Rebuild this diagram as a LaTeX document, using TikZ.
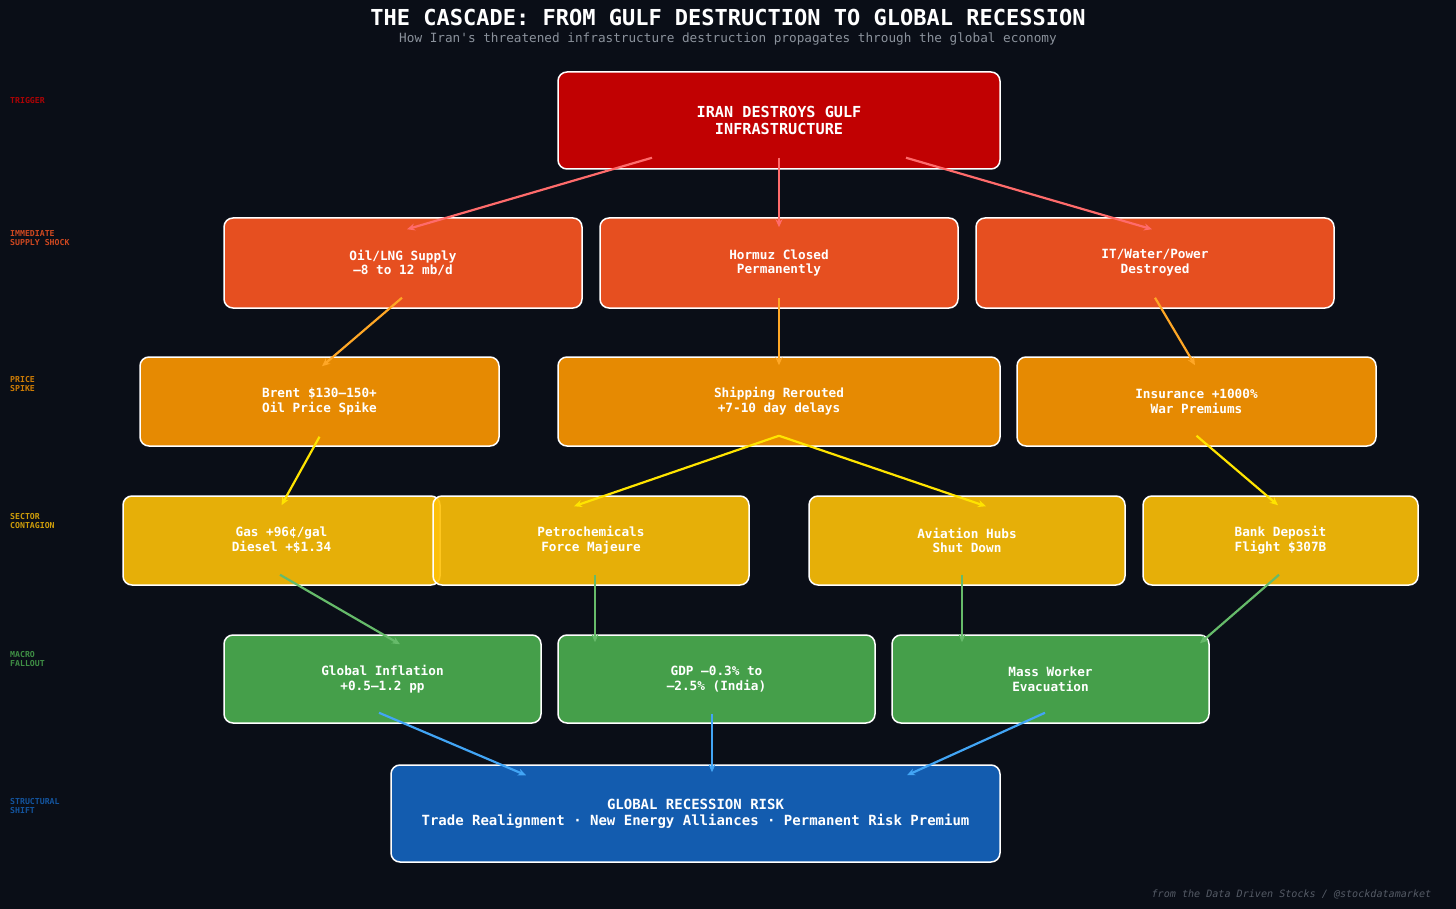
\documentclass[tikz,border=0pt]{standalone}
\usepackage{fontspec}
\setmainfont{DejaVu Sans Mono}
\setmonofont{DejaVu Sans Mono}
\usetikzlibrary{arrows.meta}
\definecolor{bg}{HTML}{0A0E17}
\definecolor{cRed}{HTML}{D50000}
\definecolor{cDeep}{HTML}{FF5722}
\definecolor{cOrange}{HTML}{FF9800}
\definecolor{cAmber}{HTML}{FFC107}
\definecolor{cGreen}{HTML}{4CAF50}
\definecolor{cBlue}{HTML}{1565C0}
\definecolor{aRed}{HTML}{FF6B6B}
\definecolor{aOrange}{HTML}{FFA726}
\definecolor{aYellow}{HTML}{FFE400}
\definecolor{aGreen}{HTML}{66BB6A}
\definecolor{aBlue}{HTML}{42A5F5}
\definecolor{subc}{HTML}{8B929C}
\definecolor{footc}{HTML}{555B66}
\tikzset{
  box/.style={draw=white, line width=1.5pt, rounded corners=9pt, fill opacity=0.9,
    text opacity=1, text=white, inner sep=0pt, align=center,
    font=\bfseries\fontsize{12.7}{14.8}\selectfont},
  lbl/.style={anchor=base west, inner sep=0pt, font=\bfseries\fontsize{8.2}{9}\selectfont},
  arr/.style={line width=2.2pt, -{Stealth[length=8pt,width=7pt]}},
}
\begin{document}
\begin{tikzpicture}[x=1pt,y=-1pt]
\fill[bg] (0,0) rectangle (1456,909);

% title
\node[anchor=base, inner sep=0pt, text=white, font=\bfseries\fontsize{22}{26}\selectfont] (title) at (728,25.7) {THE CASCADE: FROM GULF DESTRUCTION TO GLOBAL RECESSION};
\node[anchor=base, inner sep=0pt, text=subc, font=\ttfamily\fontsize{12.7}{15}\selectfont] (sub) at (728,42.5) {How Iran's threatened infrastructure destruction propagates through the global economy};

% level labels
\node[lbl, text=cRed!80!bg] (l1) at (10,103.3) {TRIGGER};
\node[lbl, text=cDeep!80!bg] (l2a) at (10,236.7) {IMMEDIATE};
\node[lbl, text=cDeep!80!bg] (l2b) at (10,245.7) {SUPPLY SHOCK};
\node[lbl, text=cOrange!80!bg] (l3a) at (10,382.7) {PRICE};
\node[lbl, text=cOrange!80!bg] (l3b) at (10,391.7) {SPIKE};
\node[lbl, text=cAmber!80!bg] (l4a) at (10,519.3) {SECTOR};
\node[lbl, text=cAmber!80!bg] (l4b) at (10,528.3) {CONTAGION};
\node[lbl, text=cGreen!80!bg] (l5a) at (10,657.3) {MACRO};
\node[lbl, text=cGreen!80!bg] (l5b) at (10,666.3) {FALLOUT};
\node[lbl, text=cBlue!80!bg] (l6a) at (10,804.3) {STRUCTURAL};
\node[lbl, text=cBlue!80!bg] (l6b) at (10,813.3) {SHIFT};

% boxes
\node[box, fill=cRed, minimum width=442pt, minimum height=97pt,
  font=\bfseries\fontsize{15.2}{17.6}\selectfont] (trig) at (779,120.5) {IRAN DESTROYS GULF\\INFRASTRUCTURE};

\node[box, fill=cDeep, minimum width=358pt, minimum height=90pt] (oil) at (403,263) {Oil/LNG Supply\\–8 to 12 mb/d};
\node[box, fill=cDeep, minimum width=358pt, minimum height=90pt] (hormuz) at (779,263) {Hormuz Closed\\Permanently};
\node[box, fill=cDeep, minimum width=358pt, minimum height=90pt] (itw) at (1155,263) {IT/Water/Power\\Destroyed};

\node[box, fill=cOrange, minimum width=359pt, minimum height=89pt] (brent) at (319.5,401.5) {Brent \$130–150+\\Oil Price Spike};
\node[box, fill=cOrange, minimum width=442pt, minimum height=89pt] (ship) at (779,401.5) {Shipping Rerouted\\+7-10 day delays};
\node[box, fill=cOrange, minimum width=359pt, minimum height=89pt] (ins) at (1196.5,401.5) {Insurance +1000\%\\War Premiums};

\node[box, fill=cAmber, minimum width=317pt, minimum height=89pt] (gas) at (281.5,540.5) {Gas +96¢/gal\\Diesel +\$1.34};
\node[box, fill=cAmber, minimum width=316pt, minimum height=89pt] (petro) at (591,540.5) {Petrochemicals\\Force Majeure};
\node[box, fill=cAmber, minimum width=316pt, minimum height=89pt] (avia) at (967,540.5) {Aviation Hubs\\Shut Down};
\node[box, fill=cAmber, minimum width=275pt, minimum height=89pt] (bank) at (1280.5,540.5) {Bank Deposit\\Flight \$307B};

\node[box, fill=cGreen, minimum width=317pt, minimum height=88pt] (infl) at (382.5,679) {Global Inflation\\+0.5–1.2 pp};
\node[box, fill=cGreen, minimum width=317pt, minimum height=88pt] (gdp) at (716.5,679) {GDP –0.3\% to\\–2.5\% (India)};
\node[box, fill=cGreen, minimum width=317pt, minimum height=88pt] (mass) at (1050.5,679) {Mass Worker\\Evacuation};

\node[box, fill=cBlue, minimum width=609pt, minimum height=97pt,
  font=\bfseries\fontsize{14}{16.5}\selectfont] (rec) at (695.5,813.5) {GLOBAL RECESSION RISK\\Trade Realignment · New Energy Alliances · Permanent Risk Premium};

% arrows
\draw[arr, aRed] ([xshift=-127pt,yshift=12pt]trig.south) -- ([xshift=4pt,yshift=-12pt]oil.north);
\draw[arr, aRed] ([yshift=12pt]trig.south) -- ([yshift=-10pt]hormuz.north);
\draw[arr, aRed] ([xshift=127pt,yshift=12pt]trig.south) -- ([xshift=-3pt,yshift=-12pt]itw.north);

\draw[arr, aOrange] ([xshift=-1pt,yshift=11pt]oil.south) -- ([xshift=2.5pt,yshift=-10pt]brent.north);
\draw[arr, aOrange] ([yshift=11pt]hormuz.south) -- ([yshift=-9pt]ship.north);
\draw[arr, aOrange] ([yshift=11pt]itw.south) -- ([xshift=-1.5pt,yshift=-9pt]ins.north);

\draw[arr, aYellow] ([yshift=10pt]brent.south) -- ([yshift=-10pt]gas.north);
\draw[arr, aYellow] ([yshift=11pt]ship.south) -- ([xshift=-17pt,yshift=-11pt]petro.north);
\draw[arr, aYellow] ([yshift=11pt]ship.south) -- ([xshift=19pt,yshift=-11pt]avia.north);
\draw[arr, aYellow] ([yshift=11pt]ins.south) -- ([xshift=-2.5pt,yshift=-10pt]bank.north);

\draw[arr, aGreen] ([xshift=-1.5pt,yshift=11pt]gas.south) -- ([xshift=17.5pt,yshift=-10pt]infl.north);
\draw[arr, aGreen] ([xshift=4pt,yshift=11pt]petro.south) -- ([xshift=-121.5pt,yshift=-8pt]gdp.north);
\draw[arr, aGreen] ([xshift=-5pt,yshift=11pt]avia.south) -- ([xshift=-88.5pt,yshift=-8pt]mass.north);
\draw[arr, aGreen] ([xshift=-1.5pt,yshift=11pt]bank.south) -- ([xshift=149.5pt,yshift=-9pt]mass.north);

\draw[arr, aBlue] ([xshift=-3.5pt,yshift=11pt]infl.south) -- ([xshift=-169.5pt,yshift=-11pt]rec.north);
\draw[arr, aBlue] ([xshift=-4.5pt,yshift=10pt]gdp.south) -- ([xshift=16.5pt,yshift=-8pt]rec.north);
\draw[arr, aBlue] ([xshift=-5.5pt,yshift=11pt]mass.south) -- ([xshift=211.5pt,yshift=-11pt]rec.north);

% footer
\node[anchor=base east, inner sep=0pt, text=footc, font=\itshape\fontsize{10.1}{12}\selectfont] (foot) at (1431.5,897.3) {from the Data Driven Stocks / @stockdatamarket};
\end{tikzpicture}
\end{document}
